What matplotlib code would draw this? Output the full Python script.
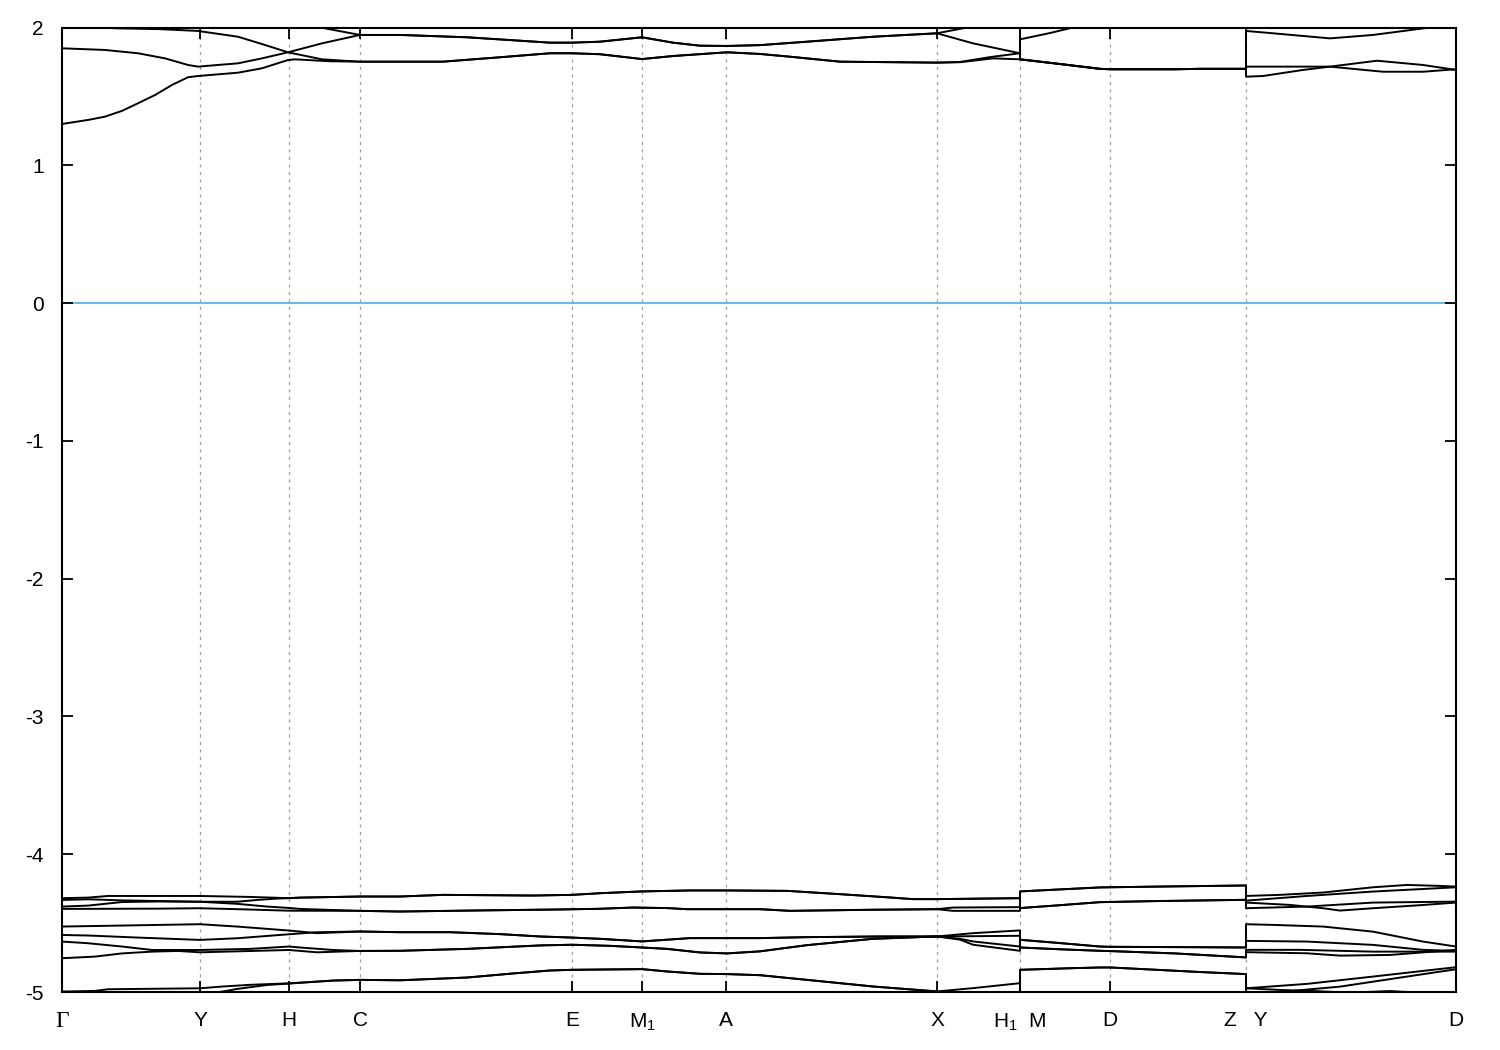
import matplotlib
matplotlib.use('Agg')
import matplotlib.pyplot as plt

plt.rcParams['font.family'] = ['Liberation Sans', 'DejaVu Sans']
plt.rcParams['mathtext.default'] = 'regular'
plt.rcParams['axes.unicode_minus'] = False

# ---- k-path (arbitrary path-distance units) ----
tick_k = [0, 138, 227, 298, 510, 580, 664, 875, 958, 1048, 1184, 1394]
tick_labels = ['Γ', 'Y', 'H', 'C', 'E', 'M$_1$', 'A', 'X', 'H$_1$  M', 'D', 'Z   Y', 'D']

# ---- shared segments (k, E) ----
T_lowCX = [(381, 1.752), (438, 1.784), (488, 1.813), (510, 1.813), (538, 1.806), (580, 1.771),
           (611, 1.793), (665, 1.82), (698, 1.808), (728, 1.788), (778, 1.752), (875, 1.745)]
T_upCX = [(338, 1.946), (405, 1.929), (488, 1.890), (510, 1.890), (538, 1.897), (580, 1.929),
          (611, 1.89), (638, 1.868), (665, 1.866), (698, 1.872), (745, 1.897), (811, 1.933), (875, 1.958)]
T_MZ = [(998, 1.735), (1038, 1.70), (1048, 1.697), (1113, 1.697), (1138, 1.70), (1184, 1.70)]

L1 = [(338, -4.307), (381, -4.295), (471, -4.30), (510, -4.295), (538, -4.283), (580, -4.27),
      (628, -4.263), (665, -4.263), (725, -4.266), (778, -4.29), (828, -4.314), (851, -4.326), (875, -4.326)]
L2 = [(338, -4.416), (418, -4.408), (498, -4.401), (538, -4.396), (571, -4.387), (605, -4.391),
      (625, -4.399), (665, -4.399), (698, -4.399), (728, -4.411), (811, -4.403), (875, -4.399)]
L3 = [(338, -4.566), (388, -4.566), (438, -4.58), (478, -4.597), (510, -4.605), (538, -4.614),
      (580, -4.633), (628, -4.609), (665, -4.609), (698, -4.609), (745, -4.602), (818, -4.597), (875, -4.597)]
L4 = [(338, -4.701), (405, -4.687), (478, -4.662), (510, -4.657), (548, -4.665), (580, -4.677),
      (605, -4.687), (638, -4.713), (665, -4.72), (698, -4.705), (745, -4.66), (811, -4.614), (875, -4.597)]
L5 = [(338, -4.915), (405, -4.895), (455, -4.863), (488, -4.844), (510, -4.839), (580, -4.834),
      (605, -4.851), (638, -4.868), (665, -4.870), (698, -4.878), (745, -4.912), (811, -4.960), (875, -4.996)]
MZ1 = [(1038, -4.241), (1095, -4.235), (1184, -4.227)]
MZ2 = [(998, -4.37), (1038, -4.348), (1095, -4.34), (1184, -4.331)]
MZa = [(998, -4.645), (1038, -4.670), (1048, -4.672), (1138, -4.675), (1184, -4.677)]
MZb = [(998, -4.69), (1038, -4.701), (1048, -4.703), (1113, -4.72), (1184, -4.749)]
MZ5 = [(1011, -4.827), (1038, -4.822), (1048, -4.822), (1095, -4.839), (1138, -4.855), (1184, -4.870)]

# ---- conduction-like bands near 2 eV ----
T1 = ([(0, 1.300), (26, 1.329), (43, 1.353), (60, 1.395), (76, 1.45), (93, 1.51), (110, 1.583), (126, 1.639),
       (136, 1.648), (176, 1.672), (200, 1.704), (226, 1.764), (233, 1.769), (268, 1.755), (298, 1.752)]
      + T_lowCX + [(898, 1.748), (931, 1.776), (958, 1.769), (958, 1.769)] + T_MZ
      + [(1184, 1.643), (1201, 1.648), (1241, 1.692), (1268, 1.716), (1315, 1.759), (1361, 1.728), (1394, 1.692)])
T2 = ([(0, 1.849), (43, 1.837), (76, 1.813), (103, 1.776), (126, 1.728), (136, 1.716), (176, 1.74),
       (200, 1.776), (226, 1.82), (260, 1.885), (298, 1.946)]
      + T_upCX + [(905, 2.0), (958, 2.08), (958, 1.769)] + T_MZ
      + [(1184, 1.975), (1211, 1.958), (1268, 1.921), (1311, 1.946), (1368, 2.0), (1394, 2.02)])
T3 = ([(0, 2.01), (55, 1.994), (98, 1.988), (136, 1.975), (176, 1.933), (200, 1.88), (226, 1.82),
       (260, 1.769), (286, 1.757), (298, 1.752)]
      + T_lowCX + [(898, 1.75), (928, 1.785), (958, 1.813), (958, 1.914), (988, 1.96), (1011, 2.0),
                   (1048, 2.06), (1184, 2.1), (1394, 2.1)])
T4 = ([(0, 2.4), (138, 2.2), (227, 2.08), (263, 1.994), (298, 1.946)]
      + T_upCX + [(911, 1.885), (958, 1.813), (958, 1.769)] + T_MZ
      + [(1184, 1.716), (1268, 1.716), (1295, 1.697), (1321, 1.679), (1361, 1.679), (1394, 1.697)])

# ---- valence-like bands near -4.2 .. -5 eV ----
U1 = ([(0, -4.319), (26, -4.315), (46, -4.303), (138, -4.303), (188, -4.31), (227, -4.319),
       (238, -4.315), (298, -4.307)] + L1 + [(911, -4.323), (958, -4.319), (958, -4.27)] + MZ1
      + [(1184, -4.303), (1218, -4.295), (1261, -4.278), (1311, -4.24), (1345, -4.223), (1378, -4.23), (1394, -4.235)])
U2 = ([(0, -4.332), (26, -4.327), (60, -4.335), (98, -4.34), (138, -4.345), (175, -4.345), (195, -4.332),
       (215, -4.322), (227, -4.319), (238, -4.315), (298, -4.307)] + L1
      + [(911, -4.323), (958, -4.319), (958, -4.391)] + MZ2
      + [(1184, -4.351), (1228, -4.368), (1261, -4.392), (1278, -4.409), (1311, -4.392), (1358, -4.37), (1394, -4.351)])
U3 = ([(0, -4.380), (26, -4.373), (43, -4.36), (60, -4.347), (98, -4.343), (138, -4.345), (175, -4.36),
       (205, -4.38), (227, -4.39), (238, -4.397), (298, -4.411)] + L2
      + [(891, -4.387), (958, -4.384), (958, -4.27)] + MZ1
      + [(1184, -4.337), (1245, -4.303), (1311, -4.271), (1394, -4.24)])
U4 = ([(0, -4.397), (98, -4.395), (138, -4.392), (181, -4.40), (227, -4.41), (298, -4.411)] + L2
      + [(891, -4.411), (958, -4.411), (958, -4.391)] + MZ2
      + [(1184, -4.392), (1245, -4.38), (1311, -4.351), (1394, -4.344)])
M1 = ([(0, -4.525), (58, -4.518), (138, -4.508), (175, -4.525), (227, -4.554), (255, -4.573), (298, -4.561)]
      + L3 + [(911, -4.573), (958, -4.553), (958, -4.621)] + MZa
      + [(1184, -4.508), (1211, -4.513), (1261, -4.525), (1311, -4.562), (1361, -4.634), (1394, -4.67)])
M2 = ([(0, -4.586), (26, -4.59), (76, -4.605), (138, -4.622), (175, -4.61), (227, -4.581), (255, -4.566), (298, -4.561)]
      + L3 + [(911, -4.595), (958, -4.592), (958, -4.677)] + MZb
      + [(1184, -4.694), (1238, -4.694), (1311, -4.707), (1394, -4.707)])
M3 = ([(0, -4.634), (26, -4.646), (60, -4.67), (90, -4.695), (138, -4.695), (188, -4.687), (227, -4.670),
       (238, -4.677), (271, -4.695), (298, -4.702)] + L4
      + [(898, -4.614), (911, -4.633), (958, -4.670), (958, -4.621)] + MZa
      + [(1184, -4.629), (1245, -4.634), (1311, -4.658), (1361, -4.694), (1394, -4.702)])
M4 = ([(0, -4.755), (33, -4.743), (60, -4.72), (90, -4.707), (116, -4.702), (138, -4.712), (227, -4.695),
       (255, -4.712), (298, -4.702)] + L4
      + [(898, -4.62), (911, -4.657), (958, -4.701), (958, -4.677)] + MZb
      + [(1184, -4.711), (1245, -4.719), (1278, -4.736), (1328, -4.731), (1394, -4.694)])
B1 = ([(0, -4.997), (33, -4.992), (46, -4.98), (138, -4.973), (161, -4.96), (188, -4.948), (227, -4.937),
       (271, -4.917), (298, -4.912)] + L5 + [(911, -4.972), (958, -4.936), (958, -4.839)] + MZ5
      + [(1184, -4.973), (1245, -4.941), (1311, -4.888), (1394, -4.82)])
B2 = ([(0, -5.1), (138, -5.04), (158, -5.0), (175, -4.978), (205, -4.949), (227, -4.939), (271, -4.917),
       (298, -4.912)] + L5 + [(911, -5.03), (958, -5.08), (958, -4.839)] + MZ5
      + [(1184, -4.973), (1218, -4.985), (1258, -4.995), (1288, -5.005), (1328, -4.993), (1358, -5.005), (1394, -5.02)])
B3 = [(1184, -5.1), (1218, -5.0), (1278, -4.961), (1345, -4.888), (1394, -4.835)]

bands = [T1, T2, T3, T4, U1, U2, U3, U4, M1, M2, M3, M4, B1, B2, B3]

fig = plt.figure(figsize=(15, 10.5), dpi=100)
ax = fig.add_axes([62 / 1500, 58 / 1050, 1394 / 1500, 964.5 / 1050])

for kk in tick_k[1:-1]:
    ax.axvline(kk, color='#a0a0a0', lw=0.9, ls=(0, (2.5, 3.5)), zorder=0)
ax.axhline(0, color='#56B4E9', lw=1.3, zorder=1)

for band in bands:
    k = [p[0] for p in band]
    e = [p[1] for p in band]
    ax.plot(k, e, color='black', lw=1.4, solid_joinstyle='round', zorder=2)

ax.set_xlim(tick_k[0], tick_k[-1])
ax.set_ylim(-5, 2)
ax.set_xticks(tick_k)
ax.set_xticklabels(tick_labels)
ax.set_yticks(range(-5, 3))
ax.tick_params(direction='in', length=8, width=1.3, top=True, right=True, labelsize=15)
ax.tick_params(axis='x', pad=14)
ax.tick_params(axis='y', pad=13)
g = ax.get_xticklabels()[0]
g.set_fontfamily(['Liberation Serif', 'DejaVu Serif'])
g.set_fontsize(17)
for s in ax.spines.values():
    s.set_linewidth(1.5)

fig.savefig('out.png', dpi=100)
